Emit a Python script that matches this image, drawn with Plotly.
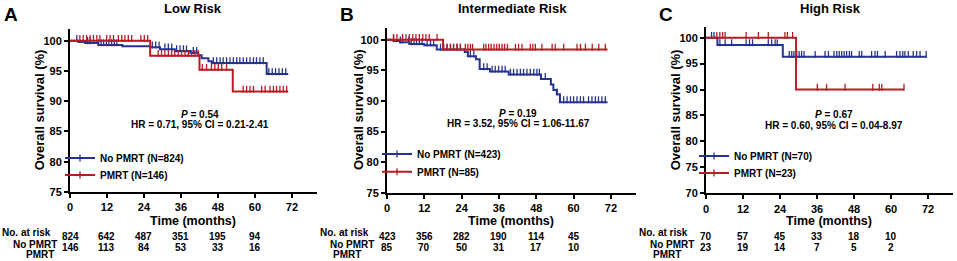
import bisect
import plotly.graph_objects as go

W, H = 957, 261
FONT = "Liberation Sans, Arial, sans-serif"
BLUE = "#26338F"
RED = "#B71C22"

# ---------------- data ----------------
panels = ["Low Risk", "Intermediate Risk", "High Risk"]
letters = ["A", "B", "C"]
groups = ["No PMRT", "PMRT"]
group_n = [[824, 146], [423, 85], [70, 23]]
p_values = ["0.54", "0.19", "0.67"]
hr_texts = ["HR = 0.71, 95% CI = 0.21-2.41",
            "HR = 3.52, 95% CI = 1.06-11.67",
            "HR = 0.60, 95% CI = 0.04-8.97"]

# Low risk
A_no_t = [2.7, 4.9, 9.2, 17.0, 26.0, 29.2, 34.0, 39.0, 41.6, 42.7, 44.9, 46.0, 63.8]
A_no_s = [99.8, 99.6, 99.3, 99.1, 98.9, 98.6, 98.3, 98.0, 97.6, 97.1, 96.6, 96.3, 94.5]
A_no_end = 70.8
A_no_cens = [2.2, 5.7, 6.5, 9.2, 10.1, 10.9, 11.8, 12.6, 13.5, 14.4, 15.2, 26.7, 27.8, 28.9,
             30.8, 31.9, 33.0, 34.6, 35.7, 36.8, 37.8, 40.0, 41.1, 46.5, 47.6, 48.7, 49.7,
             50.8, 51.9, 53.0, 54.1, 55.1, 56.2, 57.3, 58.4, 59.5, 60.5, 61.6, 62.7, 64.5,
             65.6, 66.7, 67.8, 68.9, 70.0]
A_pm_t = [26.0, 42.0, 52.8]
A_pm_s = [97.5, 95.2, 91.6]
A_pm_end = 70.8
A_pm_cens = [3.2, 4.3, 5.4, 6.5, 7.6, 8.7, 9.7, 11.9, 13.0, 14.1, 15.7, 16.8, 17.8, 18.9,
             20.0, 23.0, 24.1, 25.2, 28.6, 29.7, 30.8, 31.9, 33.0, 34.0, 35.1, 36.2, 37.3,
             38.4, 39.5, 40.5, 41.6, 42.9, 44.3, 45.9, 47.0, 48.1, 49.2, 50.8, 56.2, 57.3,
             58.4, 59.5, 62.2, 63.3, 64.9, 66.0, 67.0, 68.1, 69.2, 70.3]

# Intermediate risk
B_no_t = [2.1, 4.2, 7.2, 12.0, 16.0, 25.0, 26.0, 28.6, 29.8, 33.1, 39.1, 49.5, 52.7,
          53.5, 54.6, 55.6]
B_no_s = [99.8, 99.6, 99.3, 99.1, 98.4, 98.0, 97.3, 96.8, 95.2, 94.8, 94.3, 93.6, 92.7,
          91.8, 91.1, 89.8]
B_no_end = 70.9
B_no_cens = [2.1, 4.3, 5.0, 7.0, 7.8, 8.7, 9.5, 10.4, 11.3, 12.9, 14.0, 15.0, 17.2, 18.2,
             19.3, 20.4, 21.4, 22.5, 23.6, 26.8, 27.9, 31.1, 32.2, 33.8, 34.8, 35.9, 37.0,
             38.0, 39.7, 40.7, 41.8, 42.9, 43.9, 45.0, 46.1, 47.2, 48.2, 49.0, 50.9, 54.7,
             56.8, 57.9, 59.0, 60.0, 61.1, 62.2, 63.2, 64.8, 65.9, 67.0, 68.0, 69.1, 70.2]
B_pm_t = [18.0]
B_pm_s = [98.4]
B_pm_end = 70.9
B_pm_cens = [2.1, 3.2, 5.0, 6.1, 7.2, 8.3, 9.3, 10.4, 11.5, 12.5, 13.6, 16.1, 18.2, 19.3,
             20.4, 21.4, 22.5, 23.6, 25.2, 26.0, 26.8, 27.5, 31.1, 31.8, 32.7, 33.5, 34.4,
             35.3, 36.1, 37.0, 37.8, 38.7, 41.3, 42.3, 43.4, 46.1, 46.9, 47.7, 49.8, 53.1,
             54.1, 56.8, 61.1, 62.2, 63.8, 66.0, 68.1, 70.2]

# High risk
C_no_t = [3.7, 24.9]
C_no_s = [98.6, 96.3]
C_no_end = 71.4
C_no_cens = [1.8, 2.6, 4.5, 6.2, 8.3, 13.0, 14.1, 15.1, 20.2, 21.3, 22.4, 23.1, 27.0, 27.8,
             28.5, 29.4, 30.2, 31.0, 31.8, 35.4, 38.6, 39.7, 41.5, 42.4, 43.2, 44.0, 44.8,
             45.6, 46.5, 47.2, 49.7, 50.5, 53.7, 54.8, 55.6, 58.1, 61.8, 62.9, 63.8, 64.5,
             65.6, 67.2, 68.3, 69.4, 71.4]
C_pm_t = [29.2]
C_pm_s = [90.0]
C_pm_end = 64.2
C_pm_cens = [3.5, 4.5, 5.4, 6.2, 13.0, 17.0, 20.2, 25.6, 26.4, 28.1, 36.1, 39.1, 45.1,
             54.1, 56.2, 57.0, 64.2]

risk_times = [0, 12, 24, 36, 48, 60]
risk_no = [[824, 642, 487, 351, 195, 94], [423, 356, 282, 190, 114, 45], [70, 57, 45, 33, 18, 10]]
risk_pm = [[146, 113, 84, 53, 33, 16], [85, 70, 50, 31, 17, 10], [23, 19, 14, 7, 5, 2]]

x_ticks = [0, 12, 24, 36, 48, 60, 72]
y_ranges = [[75, 102], [75, 102], [70, 102]]
y_ticks = [[75, 80, 85, 90, 95, 100], [75, 80, 85, 90, 95, 100], [70, 75, 80, 85, 90, 95, 100]]

curves = [
    [(A_no_t, A_no_s, A_no_end, A_no_cens), (A_pm_t, A_pm_s, A_pm_end, A_pm_cens)],
    [(B_no_t, B_no_s, B_no_end, B_no_cens), (B_pm_t, B_pm_s, B_pm_end, B_pm_cens)],
    [(C_no_t, C_no_s, C_no_end, C_no_cens), (C_pm_t, C_pm_s, C_pm_end, C_pm_cens)],
]

# ---------------- layout geometry (pixels) ----------------
x_dom_px = [(70, 316.6), (387, 635.8), (706, 952.7)]
y_dom_px = [(192, 28.6), (192.7, 27.5), (193.3, 27.3)]  # (bottom, top)
ytitle_x = [39, 358, 675]
letter_x = [11, 347, 666]
title_x = [193, 512, 830]
stat_x = [200, 518, 834]
stat_y = [(114, 124), (113, 123), (114, 125)]
legend_text_x = [100, 417, 734]
legend_item_y = [(158, 175), (154, 171.7), (156, 173)]
table_left = [0, 318, 637]
row_label_x = [(35, 40), (352, 347), (672, 667)]


def px(xp):
    return xp / W


def py(yp):
    return 1 - yp / H


def surv_at(times, surv, t):
    i = bisect.bisect_right(times, t)
    return 100.0 if i == 0 else surv[i - 1]


fig = go.Figure()
annotations = []
colors = [BLUE, RED]
layout_upd = {}

for k in range(3):
    sfx = "" if k == 0 else str(k + 1)
    xa, ya = "x" + sfx, "y" + sfx
    ymin, ymax = y_ranges[k]
    y_px_per_unit = (y_dom_px[k][0] - y_dom_px[k][1]) / (ymax - ymin)
    up = 2.3 / y_px_per_unit
    for g in range(2):
        idx = 1 + 2 * k + g
        legname = "legend" if idx == 1 else f"legend{idx}"
        t, s, end, cens = curves[k][g]
        xs = [0] + list(t) + [end]
        ys = [100] + list(s) + [s[-1]]
        fig.add_trace(go.Scatter(x=xs, y=ys, mode="lines", line=dict(color=colors[g], width=2, shape="hv"),
                                 xaxis=xa, yaxis=ya, showlegend=False, hoverinfo="skip"))
        cx, cy = [], []
        for c in cens:
            cx += [c, None]
            cy += [surv_at(t, s, c) + up, None]
        fig.add_trace(go.Scatter(x=cx, y=cy, mode="lines+markers",
                                 line=dict(color=colors[g], width=2),
                                 marker=dict(symbol="line-ns", size=5, line=dict(color=colors[g], width=1.3)),
                                 xaxis=xa, yaxis=ya, legend=legname,
                                 name=f"{groups[g]} (N={group_n[k][g]})", showlegend=True, hoverinfo="skip"))
        layout_upd[legname] = dict(x=px(legend_text_x[k] - 40), y=py(legend_item_y[k][g]),
                                   xanchor="left", yanchor="middle",
                                   bgcolor="rgba(0,0,0,0)", borderwidth=0,
                                   font=dict(family=FONT, size=10, color="black", weight="bold"),
                                   itemwidth=30)

    axis_common = dict(showgrid=False, zeroline=False, showline=True, linecolor="black", linewidth=2,
                       ticks="outside", ticklen=4, tickwidth=1.5, tickcolor="black", automargin=False,
                       tickfont=dict(family=FONT, size=11, color="black", weight="bold"))
    layout_upd["xaxis" + sfx] = dict(domain=[px(x_dom_px[k][0]), px(x_dom_px[k][1])], range=[0, 80],
                                     tickvals=x_ticks, anchor=ya, **axis_common)
    layout_upd["yaxis" + sfx] = dict(domain=[py(y_dom_px[k][0]), py(y_dom_px[k][1])], range=[ymin, ymax],
                                     tickvals=y_ticks[k], anchor=xa, **axis_common)

    def ann(text, x, y, size, **kw):
        d = dict(text=text, x=x, y=y, xref="paper", yref="paper", showarrow=False,
                 font=dict(family=FONT, size=size, color="black", weight="bold"),
                 xanchor="center", yanchor="middle")
        d.update(kw)
        annotations.append(d)

    ann(letters[k], px(letter_x[k]), py(14), 19)
    ann(panels[k], px(title_x[k]), py(8), 13)
    ann("<i>P</i> = " + p_values[k], px(stat_x[k]), py(stat_y[k][0]), 10)
    ann(hr_texts[k], px(stat_x[k]), py(stat_y[k][1]), 10)
    ann("Overall survival (%)", px(ytitle_x[k]), py((y_dom_px[k][0] + y_dom_px[k][1]) / 2), 13, textangle=-90)
    ann("Time (months)", px((x_dom_px[k][0] + x_dom_px[k][1]) / 2), py(220.5), 12.5)
    ann("No. at risk", px(table_left[k]), py(232), 10, xanchor="left")
    ann(groups[0], px(row_label_x[k][0]), py(244), 10)
    ann(groups[1], px(row_label_x[k][1]), py(254.5), 10)
    for i, tm in enumerate(risk_times):
        annotations.append(dict(text=str(risk_no[k][i]), x=tm, xref=xa, y=py(244), yref="paper",
                                showarrow=False, font=dict(family=FONT, size=10, color="black", weight="bold")))
        annotations.append(dict(text=str(risk_pm[k][i]), x=tm, xref=xa, y=py(254.5), yref="paper",
                                showarrow=False, font=dict(family=FONT, size=10, color="black", weight="bold")))

fig.update_layout(**layout_upd)
fig.update_layout(width=W, height=H, margin=dict(l=0, r=0, t=0, b=0, autoexpand=False),
                  paper_bgcolor="white", plot_bgcolor="white", annotations=annotations)
fig.write_html("out.html", config={"displayModeBar": False},
               post_script="document.body.style.margin='0px';document.body.style.overflow='hidden';")
